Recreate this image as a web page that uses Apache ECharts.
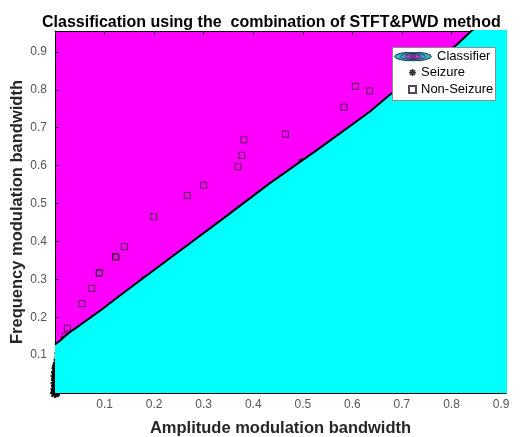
<!DOCTYPE html>
<html>
<head>
<meta charset="utf-8">
<script src="https://cdn.jsdelivr.net/npm/echarts@6/dist/echarts.min.js"></script>
<style>
  html, body { margin: 0; padding: 0; background: #fff; }
  #chart { width: 520px; height: 437px; }
</style>
</head>
<body>
<div id="chart"></div>
<script>
// Decision boundary of the classifier (Seizure region below, Non-Seizure above)
const boundaryX = [0, 0.010, 0.020, 0.036, 0.093, 0.137, 0.231, 0.335, 0.433, 0.534, 0.635, 0.675, 0.740, 0.810, 0.840, 0.920];
const boundaryY = [0.128, 0.138, 0.150, 0.166, 0.219, 0.263, 0.355, 0.456, 0.553, 0.646, 0.742, 0.786, 0.850, 0.918, 0.955, 1.030];

// Seizure feature points
const seizureX = [0.009, 0.010, 0.007, 0.006, 0.004, 0.003, 0.005, 0.002, 0.004, 0.001, 0.003, 0.002, 0.004, 0.001, 0.003, 0.002, 0.004, 0.001, 0.003, 0.002, 0.000, 0.183, 0.500];
const seizureY = [0.105, 0.098, 0.088, 0.078, 0.072, 0.066, 0.060, 0.055, 0.050, 0.045, 0.040, 0.035, 0.030, 0.026, 0.022, 0.018, 0.014, 0.010, 0.006, 0.002, 0.000, 0.298, 0.607];

// Non-Seizure feature points
const nonSeizureX = [0.013, 0.016, 0.018, 0.021, 0.025, 0.054, 0.074, 0.089, 0.090, 0.122, 0.123, 0.140, 0.199, 0.267, 0.300, 0.369, 0.377, 0.381, 0.465, 0.583, 0.606, 0.635];
const nonSeizureY = [0.118, 0.128, 0.140, 0.151, 0.171, 0.236, 0.276, 0.316, 0.318, 0.360, 0.358, 0.386, 0.465, 0.521, 0.548, 0.597, 0.627, 0.668, 0.683, 0.754, 0.809, 0.797];

// Axis ranges and ticks
const xRange = [0, 0.91];
const yRange = [0, 0.955];
const tickStep = 0.1;

const zip = (xs, ys) => xs.map((x, i) => [x, ys[i]]);

const FONT = '"Liberation Sans", Arial, sans-serif';

// Filled-contour style icon for the classifier entry
const contourIcon = 'image://data:image/svg+xml;charset=utf-8,' + encodeURIComponent(
  "<svg xmlns='http://www.w3.org/2000/svg' width='38' height='10' viewBox='0 0 38 10'>" +
  "<ellipse cx='19' cy='5' rx='18.3' ry='4.4' fill='#2fb8c8' stroke='#1c2f4a' stroke-width='1'/>" +
  "<ellipse cx='19' cy='5' rx='12.5' ry='3' fill='#58a8d8' stroke='#1c2f4a' stroke-width='0.9'/>" +
  "<ellipse cx='19' cy='5' rx='8' ry='1.9' fill='#e236e0' stroke='#1c2f4a' stroke-width='0.8'/>" +
  "<ellipse cx='19' cy='5' rx='3' ry='0.8' fill='#c020c0' stroke='#1c2f4a' stroke-width='0.6'/>" +
  "</svg>");

// Eight-armed asterisk built from four filled bars
function asteriskPath(halfWidth) {
  const L = 1, W = halfWidth;
  const parts = [0, 45, 90, 135].map(deg => {
    const a = deg * Math.PI / 180, c = Math.cos(a), s = Math.sin(a);
    const pts = [[-L, -W], [L, -W], [L, W], [-L, W]].map(([u, v]) =>
      [(u * c - v * s).toFixed(3), (u * s + v * c).toFixed(3)]);
    return 'M' + pts.map(p => p.join(',')).join('L') + 'Z';
  });
  return 'path://' + parts.join('');
}
const asterisk = asteriskPath(0.24);
const squareIcon = 'path://M0,0L1,0L1,1L0,1Z';

const axisCommon = {
  type: 'value',
  interval: tickStep,
  splitLine: { show: false },
  nameMoveOverlap: false,
  axisLine: { show: true, onZero: false, lineStyle: { color: '#000', width: 1 } },
  axisTick: { show: true, inside: true, length: 4, lineStyle: { color: '#222' } }
};

const chart = echarts.init(document.getElementById('chart'), null, { renderer: 'canvas' });

chart.setOption({
  backgroundColor: '#ffffff',
  animation: false,
  title: {
    text: 'Classification using the  combination of STFT&PWD method',
    left: 42,
    top: 15,
    padding: 0,
    textStyle: { fontFamily: FONT, fontSize: 16, fontWeight: 'bold', color: '#000' }
  },
  grid: {
    left: 55, right: 14, top: 31, bottom: 44,
    outerBoundsMode: 'none',
    containLabel: false,
    show: true, backgroundColor: '#ff00ff', borderWidth: 0
  },
  xAxis: [
    Object.assign({}, axisCommon, {
      min: xRange[0], max: xRange[1], position: 'bottom',
      name: 'Amplitude modulation bandwidth',
      nameLocation: 'middle', nameGap: 27,
      nameTextStyle: { fontFamily: FONT, fontSize: 16.5, fontWeight: 'bold', color: '#262626' },
      axisLabel: {
        margin: 6, fontFamily: FONT, fontSize: 12, color: '#555',
        showMinLabel: false, showMaxLabel: false,
        formatter: v => v.toFixed(1)
      }
    }),
    Object.assign({}, axisCommon, {
      min: xRange[0], max: xRange[1], position: 'top',
      axisLabel: { show: false }
    })
  ],
  yAxis: [
    Object.assign({}, axisCommon, {
      min: yRange[0], max: yRange[1], position: 'left',
      name: 'Frequency modulation bandwidth',
      nameLocation: 'middle', nameGap: 29,
      nameTextStyle: { fontFamily: FONT, fontSize: 16.5, fontWeight: 'bold', color: '#262626' },
      axisLabel: {
        margin: 8, fontFamily: FONT, fontSize: 12, color: '#555',
        showMinLabel: false, showMaxLabel: false,
        formatter: v => v.toFixed(1)
      }
    }),
    Object.assign({}, axisCommon, {
      min: yRange[0], max: yRange[1], position: 'right',
      axisLabel: { show: false }
    })
  ],
  legend: [
    {
      data: [{ name: 'Classifier', icon: contourIcon }],
      left: 394, top: 50, padding: 0,
      itemWidth: 38, itemHeight: 10,
      selectedMode: false, z: 10,
      textStyle: { fontFamily: FONT, fontSize: 13, color: '#000' }
    },
    {
      data: [
        { name: 'Seizure', icon: asterisk },
        { name: 'Non-Seizure', icon: squareIcon }
      ],
      orient: 'vertical',
      left: 408, top: 66, padding: 0,
      itemWidth: 7, itemHeight: 14, itemGap: 4,
      selectedMode: false, z: 10,
      textStyle: { fontFamily: FONT, fontSize: 13, color: '#000' }
    }
  ],
  graphic: [
    {
      type: 'rect', left: 392, top: 47, z: 5,
      shape: { width: 103, height: 53 },
      style: { fill: '#ffffff', stroke: '#8c8c8c', lineWidth: 1 }
    }
  ],
  series: [
    {
      name: 'Classifier',
      type: 'line',
      data: zip(boundaryX, boundaryY),
      symbol: 'none',
      clip: true,
      silent: true,
      lineStyle: { color: '#000', width: 2 },
      itemStyle: { color: '#00ffff' },
      areaStyle: { color: '#00ffff', opacity: 1, origin: 'start' },
      emphasis: { disabled: true }
    },
    {
      name: 'Seizure',
      type: 'scatter',
      data: zip(seizureX, seizureY),
      symbol: asterisk,
      symbolSize: 10,
      clip: false,
      itemStyle: { color: '#000', borderWidth: 0 },
      emphasis: { disabled: true }
    },
    {
      name: 'Non-Seizure',
      type: 'scatter',
      data: zip(nonSeizureX, nonSeizureY),
      symbol: 'rect',
      symbolSize: 6,
      clip: false,
      itemStyle: { color: 'rgba(0,0,0,0)', borderColor: '#2a1a2a', borderWidth: 1 },
      emphasis: { disabled: true }
    }
  ]
});
</script>
</body>
</html>
